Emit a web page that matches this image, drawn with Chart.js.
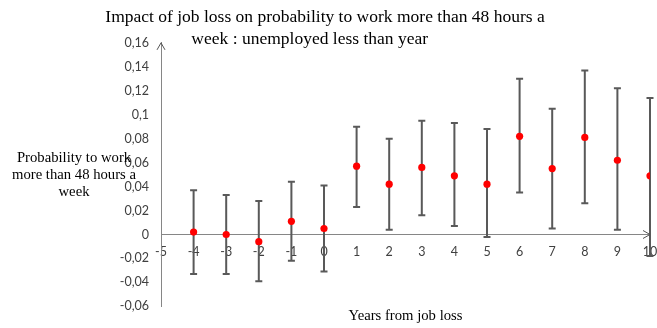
<!DOCTYPE html>
<html>
<head>
<meta charset="utf-8">
<script src="https://cdn.jsdelivr.net/npm/chart.js@4.4.1/dist/chart.umd.min.js"></script>
<style>
  html, body { margin: 0; padding: 0; background: #fff; }
  #wrap { width: 657px; height: 328px; }
</style>
</head>
<body>
<div id="wrap"><canvas id="myChart"></canvas></div>
<script>
// years relative to job loss, point estimates and 95% bounds
const years    = [-4, -3, -2, -1, 0, 1, 2, 3, 4, 5, 6, 7, 8, 9, 10];
const estimate = [0.002, 0.000, -0.006, 0.011, 0.005, 0.057, 0.042, 0.056, 0.049, 0.042, 0.082, 0.055, 0.081, 0.062, 0.049];
const upper    = [0.037, 0.033, 0.028, 0.044, 0.041, 0.090, 0.080, 0.095, 0.093, 0.088, 0.130, 0.105, 0.137, 0.122, 0.114];
const lower    = [-0.033, -0.033, -0.039, -0.022, -0.031, 0.023, 0.004, 0.016, 0.007, -0.002, 0.035, 0.005, 0.026, 0.004, -0.018];

const yLabel = ['Probability to work', 'more than 48 hours a', 'week'];

const axisColor = '#868686';
const barColor = '#595959';
const serif = '"Liberation Serif", "Times New Roman", serif';

// whiskers + axis arrows + horizontal y title
const extras = {
    id: 'extras',
    beforeDatasetsDraw(chart) {
        const ctx = chart.ctx;
        const xs = chart.scales.x, ys = chart.scales.y;
        ctx.save();
        ctx.strokeStyle = barColor;
        ctx.lineWidth = 2;
        for (let i = 0; i < years.length; i++) {
            const px = xs.getPixelForValue(years[i]);
            const top = ys.getPixelForValue(upper[i]);
            const bot = ys.getPixelForValue(lower[i]);
            ctx.beginPath();
            ctx.moveTo(px, top); ctx.lineTo(px, bot);
            ctx.moveTo(px - 3.5, top); ctx.lineTo(px + 3.5, top);
            ctx.moveTo(px - 3.5, bot); ctx.lineTo(px + 3.5, bot);
            ctx.stroke();
        }
        ctx.restore();
    },
    afterDraw(chart) {
        const ctx = chart.ctx;
        const xs = chart.scales.x, ys = chart.scales.y;
        ctx.save();
        ctx.strokeStyle = '#555';
        ctx.lineWidth = 1;
        // arrow on top of y axis
        const ax = xs.getPixelForValue(xs.min), ay = ys.getPixelForValue(ys.max);
        ctx.beginPath();
        ctx.moveTo(ax - 4, ay + 7); ctx.lineTo(ax, ay); ctx.lineTo(ax + 4, ay + 7);
        ctx.stroke();
        // arrow at the end of x axis
        const bx = xs.getPixelForValue(xs.max), by = ys.getPixelForValue(0);
        ctx.beginPath();
        ctx.moveTo(bx - 7, by - 4); ctx.lineTo(bx, by); ctx.lineTo(bx - 7, by + 4);
        ctx.stroke();

        ctx.fillStyle = '#000';
        ctx.font = '14.7px ' + serif;
        ctx.textAlign = 'center';
        ctx.textBaseline = 'middle';
        yLabel.forEach((t, i) => ctx.fillText(t, 74, 158 + i * 17));
        ctx.restore();
    }
};

const fmt = v => {
    const r = Math.round(v * 100) / 100;
    return String(r).replace('.', ',');
};

new Chart(document.getElementById('myChart'), {
    type: 'scatter',
    data: {
        datasets: [{
            data: years.map((x, i) => ({ x: x, y: estimate[i] })),
            backgroundColor: '#ff0000',
            borderColor: '#ff0000',
            pointRadius: 3.6,
            pointBorderWidth: 0
        }]
    },
    options: {
        responsive: true,
        maintainAspectRatio: false,
        animation: false,
        layout: { padding: { left: 0, right: 7, top: 0, bottom: 0 } },
        plugins: {
            legend: { display: false },
            tooltip: { enabled: false },
            title: {
                display: true,
                text: ['Impact of job loss on probability to work more than 48 hours a', 'week : unemployed less than year       '],
                color: '#000',
                font: { family: serif, size: 17.5, weight: 'normal', lineHeight: 1.31 },
                padding: { top: 5.5, bottom: -8.5 }
            },
            subtitle: {
                display: true,
                position: 'bottom',
                fullSize: false,
                text: 'Years from job loss',
                color: '#000',
                font: { family: serif, size: 14.7, weight: 'normal', lineHeight: 1.2 },
                padding: { top: 1, bottom: 3 }
            }
        },
        scales: {
            x: {
                type: 'linear',
                position: { y: 0 },
                min: -5,
                max: 10,
                afterFit(scale) { scale.paddingLeft = 0; scale.paddingRight = 0; },
                ticks: {
                    stepSize: 1,
                    padding: 10,
                    color: '#404040',
                    font: { family: 'Lato, "Liberation Sans", sans-serif', size: 12.5 }
                },
                grid: { display: false, drawTicks: false },
                border: { display: true, color: axisColor, width: 1 }
            },
            y: {
                type: 'linear',
                position: 'left',
                min: -0.06,
                max: 0.16,
                afterFit(scale) { scale.width = 161; },
                ticks: {
                    stepSize: 0.02,
                    padding: 12,
                    color: '#404040',
                    font: { family: 'Lato, "Liberation Sans", sans-serif', size: 12.5 },
                    callback: v => fmt(v)
                },
                grid: { display: false, drawTicks: false },
                border: { display: true, color: axisColor, width: 1 }
            }
        }
    },
    plugins: [extras]
});
</script>
</body>
</html>
